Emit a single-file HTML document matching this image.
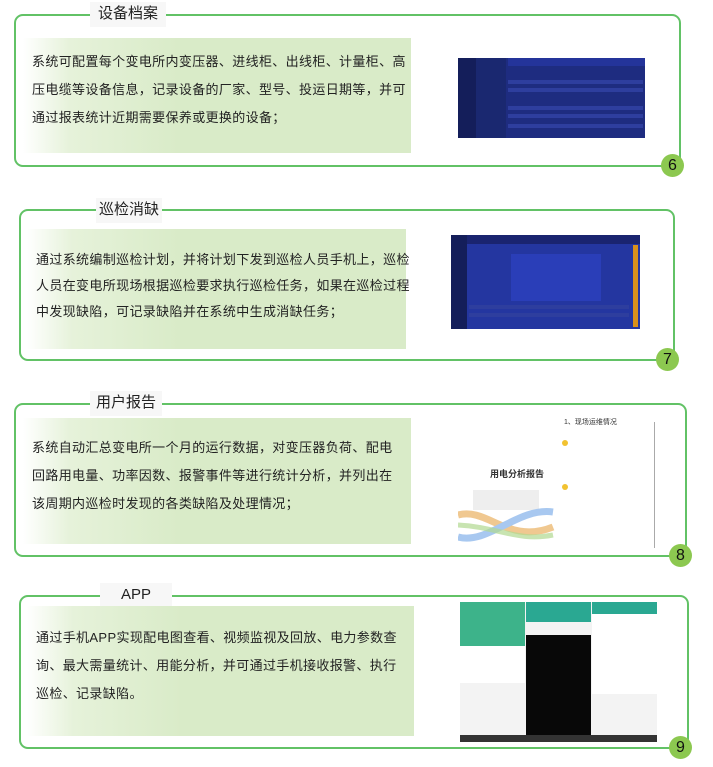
<!DOCTYPE html>
<html><head><meta charset="utf-8"><style>
*{margin:0;padding:0;box-sizing:border-box}
body{width:713px;height:767px;background:#fff;position:relative;overflow:hidden;font-family:"Liberation Sans","Noto Sans CJK SC",sans-serif}
.card{position:absolute;border:2px solid #62c266;border-radius:9px}
.title{position:absolute;background:#f7f7f7;font-size:15px;color:#222;text-align:center;line-height:24px;height:25px}
.tb{position:absolute;background:linear-gradient(90deg,#ffffff 0%,#e6f2da 12%,#d9ebc8 40%,#d9ebc8 100%);font-size:13px;color:#222;line-height:28px;letter-spacing:0.35px;padding:11px 0 0 9px;white-space:nowrap}
.num{position:absolute;width:23px;height:23px;border-radius:50%;background:#8cc850;font-size:16px;color:#111;text-align:center;line-height:23px}
.shot{position:absolute;background:#1e2c80;overflow:hidden}
.side{position:absolute;left:0;top:0;bottom:0;background:#141e5a}
.row{position:absolute;height:4px;background:#2e3e9e}
</style></head><body>

<div class="card" style="left:14px;top:14px;width:667px;height:153px"></div>
<div class="title" style="left:90px;top:2px;width:76px">设备档案</div>
<div class="tb" style="left:23px;top:38px;width:388px;height:115px;padding-top:10px">系统可配置每个变电所内变压器、进线柜、出线柜、计量柜、高<br>压电缆等设备信息，记录设备的厂家、型号、投运日期等，并可<br>通过报表统计近期需要保养或更换的设备；</div>
<div class="shot" style="left:458px;top:58px;width:187px;height:80px">
 <div class="side" style="width:18px"></div>
 <div style="position:absolute;left:18px;top:0;width:30px;bottom:0;background:#1a2870"></div>
 <div style="position:absolute;left:50px;top:0;right:0;height:8px;background:#24349a"></div>
 <div class="row" style="left:50px;top:22px;width:135px"></div>
 <div class="row" style="left:50px;top:30px;width:135px"></div>
 <div class="row" style="left:50px;top:48px;width:135px"></div>
 <div class="row" style="left:50px;top:56px;width:135px"></div>
 <div class="row" style="left:50px;top:66px;width:135px"></div>
</div>
<div class="num" style="left:661px;top:154px">6</div>

<div class="card" style="left:19px;top:209px;width:656px;height:152px"></div>
<div class="title" style="left:96px;top:198px;width:66px">巡检消缺</div>
<div class="tb" style="left:27px;top:229px;width:379px;height:120px;padding-top:18px;line-height:26px">通过系统编制巡检计划，并将计划下发到巡检人员手机上，巡检<br>人员在变电所现场根据巡检要求执行巡检任务，如果在巡检过程<br>中发现缺陷，可记录缺陷并在系统中生成消缺任务；</div>
<div class="shot" style="left:451px;top:235px;width:189px;height:94px;background:#2436a0">
 <div class="side" style="width:16px"></div>
 <div style="position:absolute;left:16px;top:0;right:0;height:9px;background:#1a2470"></div>
 <div style="position:absolute;left:60px;top:19px;width:90px;height:47px;background:#2a3eb8"></div>
 <div style="position:absolute;left:182px;top:10px;width:5px;height:82px;background:#d9901a"></div>
 <div class="row" style="left:18px;top:70px;width:160px"></div>
 <div class="row" style="left:18px;top:78px;width:160px"></div>
</div>
<div class="num" style="left:656px;top:348px">7</div>

<div class="card" style="left:14px;top:403px;width:673px;height:154px"></div>
<div class="title" style="left:90px;top:391px;width:72px">用户报告</div>
<div class="tb" style="left:23px;top:418px;width:388px;height:126px;padding-top:16px">系统自动汇总变电所一个月的运行数据，对变压器负荷、配电<br>回路用电量、功率因数、报警事件等进行统计分析，并列出在<br>该周期内巡检时发现的各类缺陷及处理情况；</div>
<div style="position:absolute;left:458px;top:412px;width:197px;height:136px;background:#fff">
 <div style="position:absolute;left:32px;top:55px;font-size:9px;font-weight:bold;color:#333">用电分析报告</div>
 <div style="position:absolute;left:15px;top:78px;width:66px;height:20px;background:#eee"></div>
 <svg style="position:absolute;left:0;top:95px" width="100" height="40"><path d="M0 8 C30 0 50 38 95 20" stroke="#f0c890" stroke-width="7" fill="none"/><path d="M0 30 C30 38 60 0 95 5" stroke="#a8c8f0" stroke-width="7" fill="none"/><path d="M0 18 C40 20 60 35 95 28" stroke="#b0d890" stroke-width="5" fill="none" opacity=".7"/></svg>
 <div style="position:absolute;left:106px;top:5px;font-size:7px;color:#333">1、现场运维情况</div>
 <div style="position:absolute;left:104px;top:28px;width:6px;height:6px;border-radius:50%;background:#f2c230"></div>
 <div style="position:absolute;left:104px;top:72px;width:6px;height:6px;border-radius:50%;background:#f2c230"></div>
 <div style="position:absolute;left:196px;top:10px;width:1px;height:126px;background:#aaa"></div>
</div>
<div class="num" style="left:669px;top:544px">8</div>

<div class="card" style="left:19px;top:595px;width:670px;height:154px"></div>
<div class="title" style="left:100px;top:583px;width:72px">APP</div>
<div class="tb" style="left:27px;top:606px;width:387px;height:130px;padding-top:18px">通过手机APP实现配电图查看、视频监视及回放、电力参数查<br>询、最大需量统计、用能分析，并可通过手机接收报警、执行<br>巡检、记录缺陷。</div>
<div style="position:absolute;left:460px;top:602px;width:197px;height:140px;background:#f3f3f3">
 <div style="position:absolute;left:0;top:0;width:65px;height:44px;background:#3db38a"></div>
 <div style="position:absolute;left:0;top:44px;width:65px;height:37px;background:#fff"></div>
 <div style="position:absolute;left:66px;top:0;width:65px;height:20px;background:#2aa892"></div>
 <div style="position:absolute;left:66px;top:33px;width:65px;height:100px;background:#080808"></div>
 <div style="position:absolute;left:132px;top:0;width:65px;height:12px;background:#2aa892"></div>
 <div style="position:absolute;left:132px;top:12px;width:65px;height:80px;background:#fff"></div>
 <div style="position:absolute;left:0;top:133px;width:197px;height:7px;background:#333"></div>
</div>
<div class="num" style="left:669px;top:736px">9</div>

</body></html>
